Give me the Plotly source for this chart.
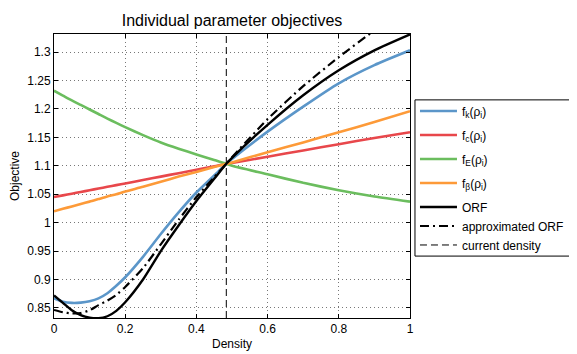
import plotly.graph_objects as go

density = [0, 0.025, 0.05, 0.075, 0.1, 0.125, 0.15, 0.175, 0.2, 0.25, 0.3, 0.35,
           0.4, 0.45, 0.484, 0.5, 0.6, 0.7, 0.8, 0.9, 1.0]

f_k = [0.867, 0.861, 0.859, 0.8595, 0.862, 0.867, 0.876, 0.889, 0.904, 0.940, 0.980,
       1.018, 1.053, 1.083, 1.1035, 1.112, 1.160, 1.204, 1.245, 1.277, 1.303]
f_c = [1.045, 1.048, 1.051, 1.054, 1.057, 1.060, 1.063, 1.066, 1.069, 1.075, 1.081,
       1.087, 1.093, 1.099, 1.1035, 1.105, 1.116, 1.127, 1.138, 1.149, 1.159]
f_E = [1.232, 1.2235, 1.215, 1.207, 1.199, 1.191, 1.183, 1.1755, 1.168, 1.154, 1.141,
       1.130, 1.120, 1.110, 1.1035, 1.100, 1.085, 1.070, 1.057, 1.046, 1.037]
f_b = [1.020, 1.0243, 1.0286, 1.033, 1.037, 1.0415, 1.046, 1.050, 1.055, 1.063, 1.072,
       1.081, 1.089, 1.098, 1.1035, 1.106, 1.124, 1.141, 1.159, 1.177, 1.196]
orf = [0.872, 0.859, 0.846, 0.8375, 0.833, 0.832, 0.8355, 0.845, 0.860, 0.900, 0.950,
       0.995, 1.038, 1.077, 1.1035, 1.114, 1.172, 1.224, 1.268, 1.303, 1.331]
orf_approx = [0.8465, 0.8425, 0.8405, 0.841, 0.846, 0.855, 0.863, 0.873, 0.887, 0.920,
              0.962, 1.005, 1.045, 1.080, 1.1035, 1.115, 1.182, 1.240, 1.291, 1.338, 1.382]

current_density = 0.484
y_range = [0.8324, 1.3317]

y_ticks = [0.85, 0.9, 0.95, 1.0, 1.05, 1.1, 1.15, 1.2, 1.25, 1.3]
y_tick_labels = ["0.85", "0.9", "0.95", "1", "1.05", "1.1", "1.15", "1.2", "1.25", "1.3"]
x_ticks = [0, 0.2, 0.4, 0.6, 0.8, 1.0]
x_tick_labels = ["0", "0.2", "0.4", "0.6", "0.8", "1"]

names = ["f<sub>k</sub>(ρ<sub>i</sub>)", "f<sub>c</sub>(ρ<sub>i</sub>)",
         "f<sub>E</sub>(ρ<sub>i</sub>)", "f<sub>β</sub>(ρ<sub>i</sub>)"]
colors = ["#5b96c9", "#e8474b", "#6bbd5e", "#fd9a38"]

fig = go.Figure()
for i, (name, ys, c) in enumerate(zip(names, [f_k, f_c, f_E, f_b], colors)):
    fig.add_trace(go.Scatter(x=density, y=ys, name=name, mode="lines", legendgroup=f"g{i}",
                             line=dict(color=c, width=2.6, shape="spline", smoothing=0.6)))
fig.add_trace(go.Scatter(x=density, y=orf, name="ORF", mode="lines", legendgroup="g9",
                         line=dict(color="black", width=2.4, shape="spline", smoothing=0.6)))
fig.add_trace(go.Scatter(x=density, y=orf_approx, name="approximated ORF", mode="lines",
                         legendgroup="g9",
                         line=dict(color="black", width=2.2, dash="9px,4px,2px,4px",
                                   shape="spline", smoothing=0.6)))
fig.add_trace(go.Scatter(x=[current_density, current_density], y=y_range,
                         name="current density", mode="lines", legendgroup="g9",
                         line=dict(color="black", width=1, dash="7px,4px")))

font = "Liberation Sans, Arial, Helvetica, sans-serif"
axis_common = dict(showline=True, linecolor="black", linewidth=1, mirror="ticks",
                   ticks="inside", ticklen=4, tickcolor="black",
                   showgrid=True, gridcolor="#777", gridwidth=1, griddash="1px,3px",
                   zeroline=False, tickfont=dict(size=12, color="black", family=font))

fig.update_xaxes(range=[0, 1], tickvals=x_ticks, ticktext=x_tick_labels,
                 title=dict(text="Density", font=dict(size=12, color="black", family=font),
                            standoff=4),
                 **axis_common)
fig.update_yaxes(range=y_range, tickvals=y_ticks, ticktext=y_tick_labels,
                 title=dict(text="Objective", font=dict(size=12, color="black", family=font),
                            standoff=6),
                 **axis_common)

# page has an 8px body margin, so the figure is drawn 8px smaller and shifted
W, H = 569, 346
fig.update_layout(
    width=W, height=H,
    margin=dict(l=46, r=167, t=26, b=36, autoexpand=False),
    paper_bgcolor="white", plot_bgcolor="white",
    font=dict(family=font, size=12, color="black"),
    title=dict(text="Individual parameter objectives", x=0.5, xref="paper",
               y=1 - 12 / H, yanchor="middle", font=dict(size=16, color="black", family=font)),
    legend=dict(x=1.014, y=0.78, xanchor="left", yanchor="top",
                borderwidth=0, bgcolor="rgba(0,0,0,0)",
                font=dict(size=12, color="black", family=font),
                tracegroupgap=5, itemwidth=37),
    showlegend=True,
)
# legend frame
fig.add_shape(type="rect", xref="paper", yref="paper", x0=1.014, x1=1.48,
              y0=0.218, y1=0.768, line=dict(color="black", width=1),
              fillcolor="white", layer="below")

fig.write_html("out.html")
